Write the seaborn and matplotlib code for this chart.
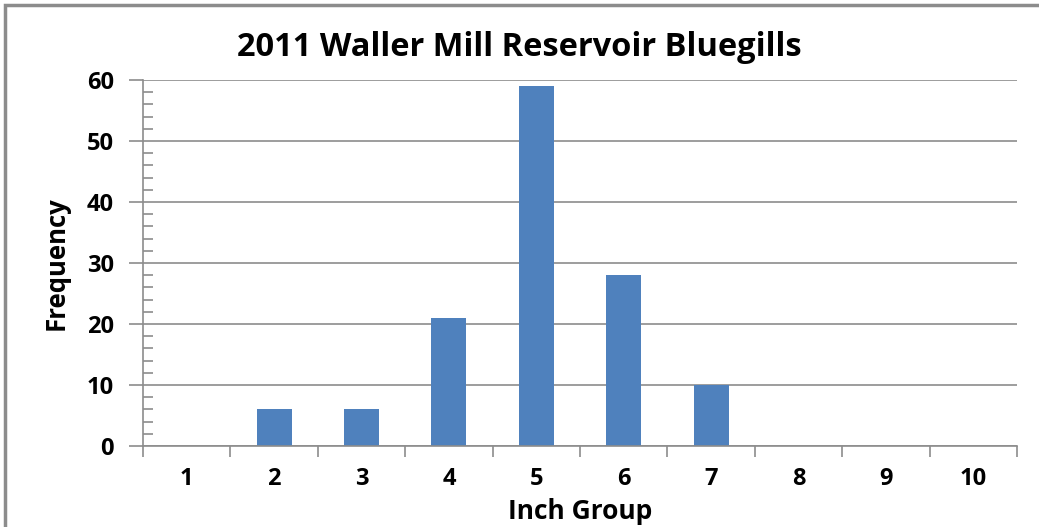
import matplotlib
matplotlib.use("Agg")
import matplotlib.pyplot as plt
import seaborn as sns
import pandas as pd
import numpy as np
from matplotlib.patches import Rectangle
from matplotlib.ticker import MultipleLocator, FixedLocator

inch_groups = ["1", "2", "3", "4", "5", "6", "7", "8", "9", "10"]
frequency = [0, 6, 6, 21, 59, 28, 10, 0, 0, 0]
title = "2011 Waller Mill Reservoir Bluegills"

sns.set_theme(style="white")
plt.rcParams['font.family'] = ['Open Sans', 'DejaVu Sans']
plt.rcParams['text.color'] = 'black'
plt.rcParams['axes.labelcolor'] = 'black'
plt.rcParams['xtick.labelcolor'] = 'black'
plt.rcParams['ytick.labelcolor'] = 'black'

df = pd.DataFrame({"group": inch_groups, "freq": frequency})

fig = plt.figure(figsize=(10.39, 5.27), dpi=100)
ax = fig.add_axes([143/1039, 1-446/527, (1017-143)/1039, (446-80)/527])

sns.barplot(data=df, x="group", y="freq", color="#4F81BD", saturation=1,
            width=0.4, ax=ax, edgecolor="none")

gray = "#8c8c8c"
ax.set_xlim(-0.5, 9.5)
ax.set_ylim(0, 60)
ax.yaxis.set_major_locator(MultipleLocator(10))
ax.yaxis.set_minor_locator(MultipleLocator(2))
ax.yaxis.grid(True, which="major", color=gray, linewidth=1.2)
ax.set_axisbelow(True)
ax.xaxis.set_minor_locator(FixedLocator(np.arange(-0.5, 10, 1)))

ax.tick_params(axis="y", which="major", direction="out", length=10, width=1.2,
               color=gray, labelsize=17, pad=11, left=True, labelcolor="black")
ax.tick_params(axis="y", which="minor", direction="in", length=7, width=1.2,
               color=gray, left=True)
ax.tick_params(axis="x", which="major", length=0, labelsize=17, pad=15,
               labelcolor="black")
ax.tick_params(axis="x", which="minor", direction="out", length=8, width=1.2,
               color=gray, bottom=True)
for lab in ax.get_xticklabels() + ax.get_yticklabels():
    lab.set_fontweight("bold")

for s in ["top", "right"]:
    ax.spines[s].set_visible(False)
for s in ["left", "bottom"]:
    ax.spines[s].set_color(gray)
    ax.spines[s].set_linewidth(1.2)

ax.set_xlabel("Inch Group", fontsize=19, fontweight="bold", labelpad=5, color="black")
ax.set_ylabel("Frequency", fontsize=18.5, fontweight="bold", labelpad=12, color="black")

fig.text(0.5, 1-47/527, title, ha="center", va="center", fontsize=23.5,
         fontweight="bold", color="black")

fig.patches.append(Rectangle((5/1039, -0.1), 1.2, 1-5/527+0.1, transform=fig.transFigure,
                             fill=False, edgecolor="#8c8c8c", linewidth=2.5))

fig.savefig("out.png", dpi=100)
